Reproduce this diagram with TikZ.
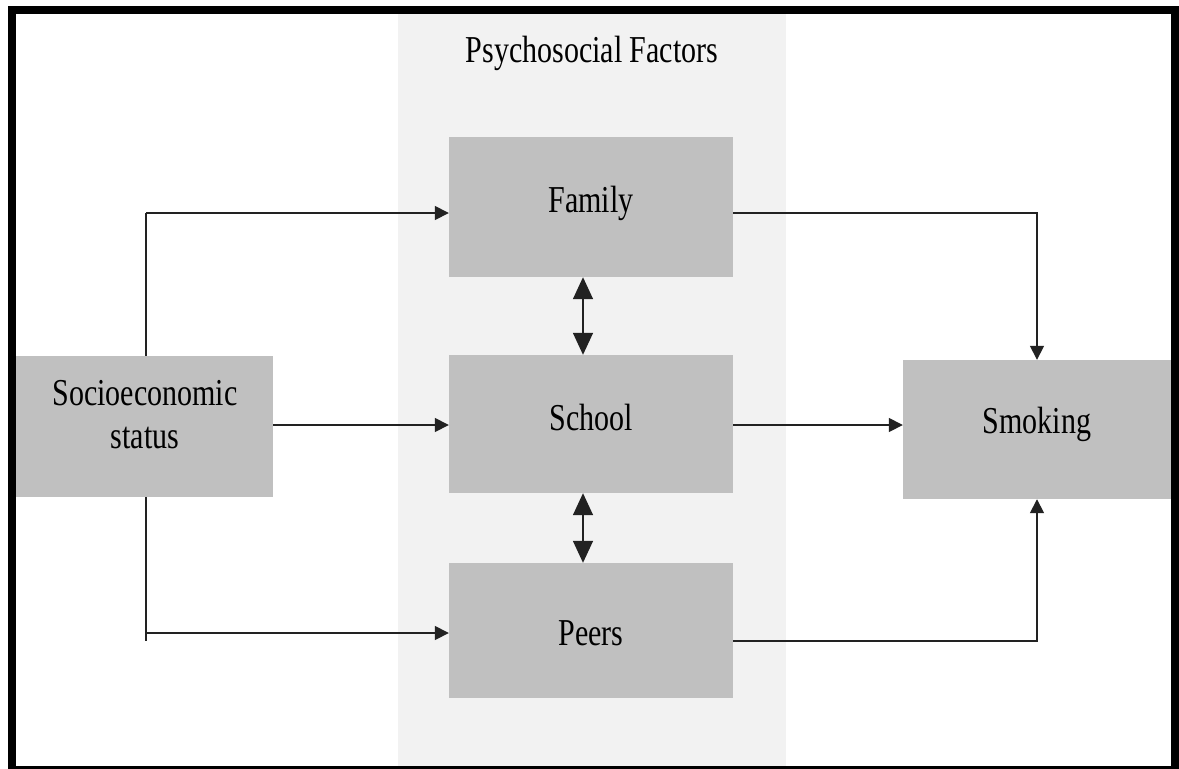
\documentclass[tikz,border=0pt]{standalone}
\usepackage{fontspec}
\setmainfont{Liberation Serif}
\usetikzlibrary{arrows.meta}
\definecolor{bandgray}{HTML}{F2F2F2}
\definecolor{boxgray}{HTML}{C0C0C0}
\definecolor{linegray}{HTML}{222222}
\newcommand\condensed[1]{\scalebox{0.79}[1]{#1}}
\tikzset{
  factorbox/.style={draw=none, fill=boxgray, inner sep=0pt, rectangle},
  caption/.style={inner sep=0pt, anchor=base, font=\fontsize{38}{43}\selectfont},
  link/.style={draw=linegray, line width=1.6pt},
  onearrow/.style={link, -{Triangle[length=14pt,width=14pt]}},
  twoarrow/.style={link, {Triangle[length=22pt,width=20pt]}-{Triangle[length=22pt,width=20pt]}},
}
\begin{document}
\begin{tikzpicture}[x=1pt,y=-1pt]
  \useasboundingbox (0,0) rectangle (1179,769);
  \clip (0,0) rectangle (1179,769);
  \fill[white] (0,0) rectangle (1179,769);

  % shaded column for the psychosocial factors
  \fill[bandgray] (398,14) rectangle (786,767);

  % branching line leaving socioeconomic status
  \coordinate (splitTop) at (146,213);
  \coordinate (splitBot) at (146,641);
  \coordinate (peersIn) at (146,633);
  \draw[link] (splitTop) -- (splitBot);

  % boxes
  \node[factorbox, minimum width=257pt, minimum height=141pt] (socio) at (144.5,426.5) {};
  \node[factorbox, minimum width=284pt, minimum height=140pt] (family) at (591,207) {};
  \node[factorbox, minimum width=284pt, minimum height=138pt] (school) at (591,424) {};
  \node[factorbox, minimum width=284pt, minimum height=135pt] (peers) at (591,630.5) {};
  \node[factorbox, minimum width=268pt, minimum height=139pt] (smoking) at (1037,429.5) {};

  % captions
  \node[caption] (title) at (592,62) {\condensed{Psychosocial Factors}};
  \node[caption] (familyText) at (591,212) {\condensed{Family}};
  \node[caption] (schoolText) at (591,430) {\condensed{School}};
  \node[caption] (peersText) at (591,645) {\condensed{Peers}};
  \node[caption] (smokingText) at (1037,433) {\condensed{Smoking}};
  \node[caption] (socioTextA) at (145,405) {\condensed{Socioeconomic}};
  \node[caption] (socioTextB) at (145,448) {\condensed{status}};

  % socioeconomic status to the three factors
  \draw[onearrow] (splitTop) -- (splitTop -| family.west);
  \draw[onearrow] (socio.east |- 0,425) -- (school.west |- 0,425);
  \draw[onearrow] (peersIn) -- (peersIn -| peers.west);

  % links between the factors
  \draw[twoarrow] ([xshift=-8pt]family.south) -- ([xshift=-8pt]school.north);
  \draw[twoarrow] ([xshift=-8pt]school.south) -- ([xshift=-8pt]peers.north);

  % factors to smoking
  \draw[onearrow] (family.east |- 0,213) -| (smoking.north);
  \draw[onearrow] (school.east |- 0,425) -- (smoking.west |- 0,425);
  \draw[onearrow] (peers.east |- 0,641) -| (smoking.south);

  % outer frame
  \draw[black, line width=8pt] (12,10) rectangle (1175,770);
\end{tikzpicture}
\end{document}
